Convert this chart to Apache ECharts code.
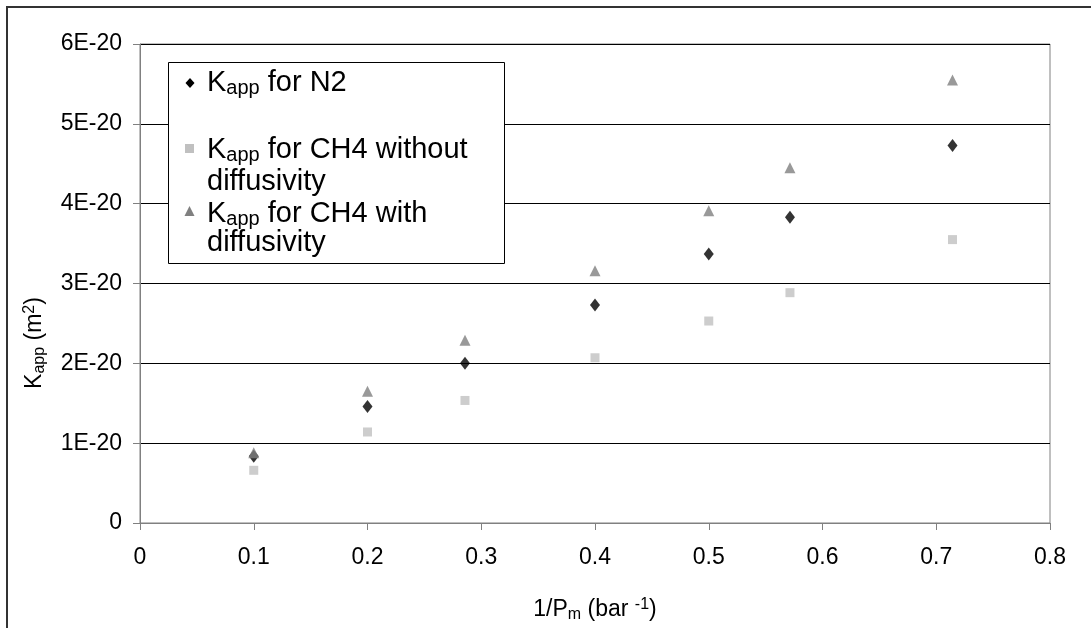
<!DOCTYPE html>
<html>
<head>
<meta charset="utf-8">
<script src="https://cdn.jsdelivr.net/npm/echarts@6/dist/echarts.min.js"></script>
<style>html,body{margin:0;padding:0;background:#fff;}#c{width:1091px;height:628px;}</style>
</head>
<body>
<div id="c"></div>
<script>
// values in units of 1E-20 m^2
const xValues = [0.1, 0.2, 0.2857, 0.4, 0.5, 0.5714, 0.7143];
const kN2 = [0.835, 1.46, 2.0, 2.73, 3.37, 3.83, 4.73];
const kCH4NoDiff = [0.66, 1.14, 1.535, 2.07, 2.53, 2.885, 3.55];
const kCH4Diff = [0.88, 1.65, 2.29, 3.16, 3.91, 4.45, 5.55];
const yTickLabels = ['0', '1E-20', '2E-20', '3E-20', '4E-20', '5E-20', '6E-20'];
const xTickLabels = ['0', '0.1', '0.2', '0.3', '0.4', '0.5', '0.6', '0.7', '0.8'];
const seriesNames = ['K_app for N2', 'K_app for CH4 without diffusivity', 'K_app for CH4 with diffusivity'];

const FONT = '"Liberation Sans", Arial, sans-serif';
const pairs = (ys) => xValues.map((x, i) => [x, ys[i]]);

const chart = echarts.init(document.getElementById('c'), null, {renderer: 'canvas'});

const legendRich = {
  k: {fontSize: 29, lineHeight: 30, fontFamily: FONT, color: '#000'},
  s: {fontSize: 20, lineHeight: 18, verticalAlign: 'bottom', fontFamily: FONT, color: '#000'}
};
const axisRich = {
  t: {fontSize: 23, lineHeight: 26, fontFamily: FONT, color: '#000'},
  s: {fontSize: 16, lineHeight: 16, verticalAlign: 'bottom', fontFamily: FONT, color: '#000'},
  p: {fontSize: 16, lineHeight: 16, verticalAlign: 'top', fontFamily: FONT, color: '#000'}
};

chart.setOption({
  animation: false,
  backgroundColor: '#fff',
  grid: {left: 140, right: 41, top: 44, bottom: 99, show: true, borderColor: '#808080', borderWidth: 1, backgroundColor: 'transparent'},
  xAxis: {
    type: 'value', min: 0, max: 0.8, interval: 0.1,
    axisLine: {show: true, lineStyle: {color: '#808080', width: 1}},
    axisTick: {show: true, length: 7, lineStyle: {color: '#808080'}},
    splitLine: {show: false},
    axisLabel: {margin: 23, fontSize: 23, fontFamily: FONT, color: '#000',
      formatter: (v) => xTickLabels[Math.round(v * 10)]},
    name: '{t|1/P}{s|m}{t| (bar }{p|-1}{t|)}',
    nameLocation: 'middle', nameGap: 74,
    nameTextStyle: {rich: axisRich}
  },
  yAxis: {
    type: 'value', min: 0, max: 6, interval: 1,
    axisLine: {show: true, lineStyle: {color: '#808080', width: 1}},
    axisTick: {show: true, length: 7, lineStyle: {color: '#808080'}},
    splitLine: {show: true, lineStyle: {color: '#000', width: 1}},
    axisLabel: {margin: 18, fontSize: 23, fontFamily: FONT, color: '#000',
      formatter: (v) => yTickLabels[Math.round(v)]}
  },
  series: [
    {name: seriesNames[0], type: 'scatter', data: pairs(kN2), symbol: 'diamond', symbolSize: [10, 13],
      itemStyle: {color: '#000'}},
    {name: seriesNames[1], type: 'scatter', data: pairs(kCH4NoDiff), symbol: 'rect', symbolSize: [9, 9],
      itemStyle: {color: '#c0c0c0'}},
    {name: seriesNames[2], type: 'scatter', data: pairs(kCH4Diff), symbol: 'triangle', symbolSize: [11, 11],
      itemStyle: {color: '#808080'}}
  ],
  graphic: [
    {type: 'rect', z: 100, shape: {x: 7, y: 7, width: 1200, height: 1000},
      style: {fill: 'none', stroke: '#333', lineWidth: 2}, silent: true},
    {type: 'rect', z: 100, shape: {x: 168.5, y: 62.5, width: 336, height: 201},
      style: {fill: '#fff', stroke: '#000', lineWidth: 1}},
    {type: 'polygon', z: 101, shape: {points: [[190, 78], [194.5, 83], [190, 88], [185.5, 83]]}, style: {fill: '#000'}},
    {type: 'rect', z: 101, shape: {x: 185, y: 144, width: 9, height: 9}, style: {fill: '#c0c0c0'}},
    {type: 'polygon', z: 101, shape: {points: [[189.5, 206], [194.5, 216], [184.5, 216]]}, style: {fill: '#808080'}},
    {type: 'text', z: 101, x: 207, y: 83, style: {text: '{k|K}{s|app}{k| for N2}', rich: legendRich, verticalAlign: 'middle'}},
    {type: 'text', z: 101, x: 207, y: 150, style: {text: '{k|K}{s|app}{k| for CH4 without}', rich: legendRich, verticalAlign: 'middle'}},
    {type: 'text', z: 101, x: 207, y: 182, style: {text: '{k|diffusivity}', rich: legendRich, verticalAlign: 'middle'}},
    {type: 'text', z: 101, x: 207, y: 214, style: {text: '{k|K}{s|app}{k| for CH4 with}', rich: legendRich, verticalAlign: 'middle'}},
    {type: 'text', z: 101, x: 207, y: 243, style: {text: '{k|diffusivity}', rich: legendRich, verticalAlign: 'middle'}},
    {type: 'text', z: 101, x: 35, y: 343, rotation: Math.PI / 2,
      style: {text: '{t|K}{s|app}{t| (m}{p|2}{t|)}', align: 'center', verticalAlign: 'middle', rich: axisRich}}
  ]
});
</script>
</body>
</html>
